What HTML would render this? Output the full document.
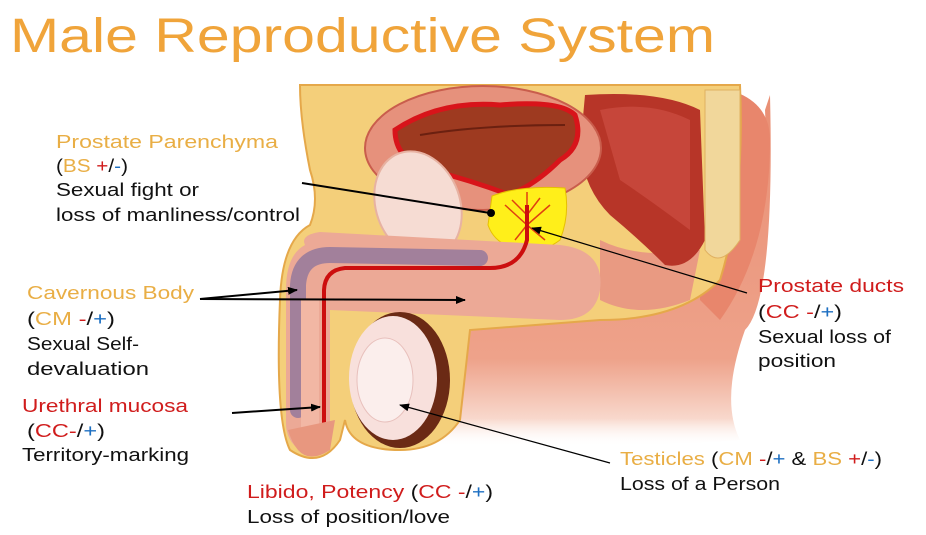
<!DOCTYPE html>
<html><head><meta charset="utf-8"><style>
html,body{margin:0;padding:0;background:#fff;}
svg{display:block;font-family:"Liberation Sans","DejaVu Sans",sans-serif;}
.o{fill:#e9ae45;}
.r{fill:#d01c1c;}
.b{fill:#1d6fc2;}
.k{fill:#111;}
.t{font-size:18px;}
</style></head><body>
<svg width="926" height="535" viewBox="0 0 926 535" xmlns="http://www.w3.org/2000/svg">
<defs>
<marker id="ah" markerWidth="10" markerHeight="8" refX="9" refY="4" orient="auto" markerUnits="userSpaceOnUse"><path d="M0,0 L10,4 L0,8 z" fill="#000"/></marker>
<linearGradient id="fade" x1="0" y1="0" x2="0" y2="1"><stop offset="0" stop-color="#e98f74"/><stop offset="0.75" stop-color="#eea28a"/><stop offset="0.92" stop-color="#f8d8cc"/><stop offset="1" stop-color="#fff" stop-opacity="0"/></linearGradient>
</defs>
<rect width="926" height="535" fill="#fff"/>
<text x="10" y="52" font-size="48" fill="#f0a43a" textLength="705" lengthAdjust="spacingAndGlyphs">Male Reproductive System</text>

<!-- skin body lower right -->
<path d="M440,280 L720,240 Q770,200 765,110 L770,95 Q775,300 745,330 Q720,400 740,440 Q600,450 440,445 Z" fill="url(#fade)"/>
<path d="M700,85 Q770,90 770,140 Q770,250 720,320 L700,300 Z" fill="#e8866c"/>
<!-- yellow fat main region -->
<path d="M300,85 L740,85 Q745,200 720,280 Q680,320 600,320 L470,330 L460,420 Q440,450 400,450 Q350,450 345,420 L340,440 Q320,470 290,450 Q275,420 280,300 Q282,240 310,225 Q320,200 310,170 Q300,120 300,85 Z" fill="#f4cf7a" stroke="#e5a84a" stroke-width="2"/>
<path d="M600,240 Q640,260 700,250 L690,300 Q640,320 600,300 Z" fill="#e99a82"/>
<!-- rectum -->
<path d="M585,95 Q660,90 700,110 L705,240 Q690,270 665,265 Q640,240 610,215 Q585,190 580,150 Z" fill="#b73528"/>
<path d="M600,110 Q650,100 690,120 L690,230 Q650,200 620,180 Z" fill="#c6463a"/>
<path d="M705,90 L740,90 L740,240 Q720,270 705,250 Z" fill="#f1d79b" stroke="#e0b060"/>
<!-- bladder -->
<ellipse cx="483" cy="148" rx="118" ry="62" fill="#e6917c" stroke="#c95d4c" stroke-width="2"/>
<path d="M395,130 Q440,100 500,105 Q560,100 575,115 Q585,145 560,160 Q540,180 520,190 L510,195 Q470,180 430,170 Q395,160 395,130 Z" fill="#9e3a20" stroke="#d8141a" stroke-width="5"/>
<path d="M420,135 Q480,125 565,125" stroke="#6b2010" stroke-width="2" fill="none"/>
<!-- pubic bone -->
<ellipse cx="418" cy="205" rx="42" ry="55" fill="#f6dcd3" stroke="#e7b2a2" stroke-width="2" transform="rotate(-20 418 205)"/>
<!-- prostate -->
<path d="M492,196 Q520,185 565,188 Q570,215 560,240 Q540,255 520,250 Q495,245 488,225 Z" fill="#ffef1a" stroke="#e6c000"/>
<path d="M527,192 L527,240 M527,225 L505,205 M527,225 L550,205 M527,225 L515,240 M527,225 L545,240 M527,215 L540,198 M527,215 L512,200" stroke="#e04010" stroke-width="1.5" fill="none"/>
<!-- shaft -->
<path d="M305,245 Q300,235 320,232 L560,245 Q605,250 600,290 Q595,320 560,320 L330,310 L330,440 Q325,455 300,450 Q285,440 286,420 L286,290 Q286,255 305,245 Z" fill="#eca996"/>
<path d="M298,410 L298,285 Q300,255 330,255 L480,258" stroke="#a2809b" stroke-width="16" fill="none" stroke-linecap="round"/>
<path d="M310,300 L310,440" stroke="#f2b7a4" stroke-width="18"/>
<!-- testis -->
<ellipse cx="400" cy="380" rx="50" ry="68" fill="#6b2a15"/>
<ellipse cx="393" cy="378" rx="44" ry="62" fill="#f8e0dc"/>
<ellipse cx="385" cy="380" rx="28" ry="42" fill="#fbeeec" stroke="#e8c0bc"/>
<!-- urethra -->
<path d="M527,205 L527,240 Q520,268 490,268 L345,268 Q325,270 324,290 L324,447" stroke="#cc0e0e" stroke-width="4" fill="none"/>
<path d="M288,430 Q300,470 330,450 L335,420 Z" fill="#e8977f"/>

<g stroke="#000" stroke-width="2" fill="none">
<line x1="302" y1="183" x2="490" y2="213"/>
<line x1="200" y1="299" x2="297" y2="290" marker-end="url(#ah)"/>
<line x1="200" y1="299" x2="465" y2="300" marker-end="url(#ah)"/>
<line x1="232" y1="413" x2="320" y2="407" marker-end="url(#ah)"/>
</g>
<circle cx="491" cy="213" r="4" fill="#000"/>
<g stroke="#000" stroke-width="1.2" fill="none">
<line x1="747" y1="293" x2="532" y2="228" marker-end="url(#ah)"/>
<line x1="610" y1="463" x2="400" y2="405" marker-end="url(#ah)"/>
</g>

<g class="t">
<text x="56" y="148" class="o" textLength="222" lengthAdjust="spacingAndGlyphs">Prostate Parenchyma</text>
<text x="56" y="172" textLength="72" lengthAdjust="spacingAndGlyphs"><tspan class="k">(</tspan><tspan class="o">BS</tspan><tspan class="r"> +</tspan><tspan class="k">/</tspan><tspan class="b">-</tspan><tspan class="k">)</tspan></text>
<text x="56" y="196" class="k" textLength="143" lengthAdjust="spacingAndGlyphs">Sexual fight or</text>
<text x="56" y="221" class="k" textLength="244" lengthAdjust="spacingAndGlyphs">loss of manliness/control</text>

<text x="27" y="299" class="o" textLength="167" lengthAdjust="spacingAndGlyphs">Cavernous Body</text>
<text x="27" y="325" textLength="88" lengthAdjust="spacingAndGlyphs"><tspan class="k">(</tspan><tspan class="o">CM</tspan><tspan class="r"> -</tspan><tspan class="k">/</tspan><tspan class="b">+</tspan><tspan class="k">)</tspan></text>
<text x="27" y="350" class="k" textLength="112" lengthAdjust="spacingAndGlyphs">Sexual Self-</text>
<text x="27" y="375" class="k" textLength="122" lengthAdjust="spacingAndGlyphs">devaluation</text>

<text x="22" y="412" class="r" textLength="166" lengthAdjust="spacingAndGlyphs">Urethral mucosa</text>
<text x="27" y="437" textLength="78" lengthAdjust="spacingAndGlyphs"><tspan class="k">(</tspan><tspan class="r">CC</tspan><tspan class="r">-</tspan><tspan class="k">/</tspan><tspan class="b">+</tspan><tspan class="k">)</tspan></text>
<text x="22" y="461" class="k" textLength="167" lengthAdjust="spacingAndGlyphs">Territory-marking</text>

<text x="247" y="498" textLength="246" lengthAdjust="spacingAndGlyphs"><tspan class="r">Libido, Potency</tspan><tspan class="k"> (</tspan><tspan class="r">CC</tspan><tspan class="r"> -</tspan><tspan class="k">/</tspan><tspan class="b">+</tspan><tspan class="k">)</tspan></text>
<text x="247" y="523" class="k" textLength="203" lengthAdjust="spacingAndGlyphs">Loss of position/love</text>

<text x="758" y="292" class="r" textLength="146" lengthAdjust="spacingAndGlyphs">Prostate ducts</text>
<text x="758" y="318" textLength="84" lengthAdjust="spacingAndGlyphs"><tspan class="k">(</tspan><tspan class="r">CC</tspan><tspan class="r"> -</tspan><tspan class="k">/</tspan><tspan class="b">+</tspan><tspan class="k">)</tspan></text>
<text x="758" y="343" class="k" textLength="133" lengthAdjust="spacingAndGlyphs">Sexual loss of</text>
<text x="758" y="367" class="k" textLength="78" lengthAdjust="spacingAndGlyphs">position</text>

<text x="620" y="465" textLength="262" lengthAdjust="spacingAndGlyphs"><tspan class="o">Testicles</tspan><tspan class="k"> (</tspan><tspan class="o">CM</tspan><tspan class="r"> -</tspan><tspan class="k">/</tspan><tspan class="b">+</tspan><tspan class="k"> &amp; </tspan><tspan class="o">BS</tspan><tspan class="r"> +</tspan><tspan class="k">/</tspan><tspan class="b">-</tspan><tspan class="k">)</tspan></text>
<text x="620" y="490" class="k" textLength="160" lengthAdjust="spacingAndGlyphs">Loss of a Person</text>
</g>
</svg>
</body></html>
